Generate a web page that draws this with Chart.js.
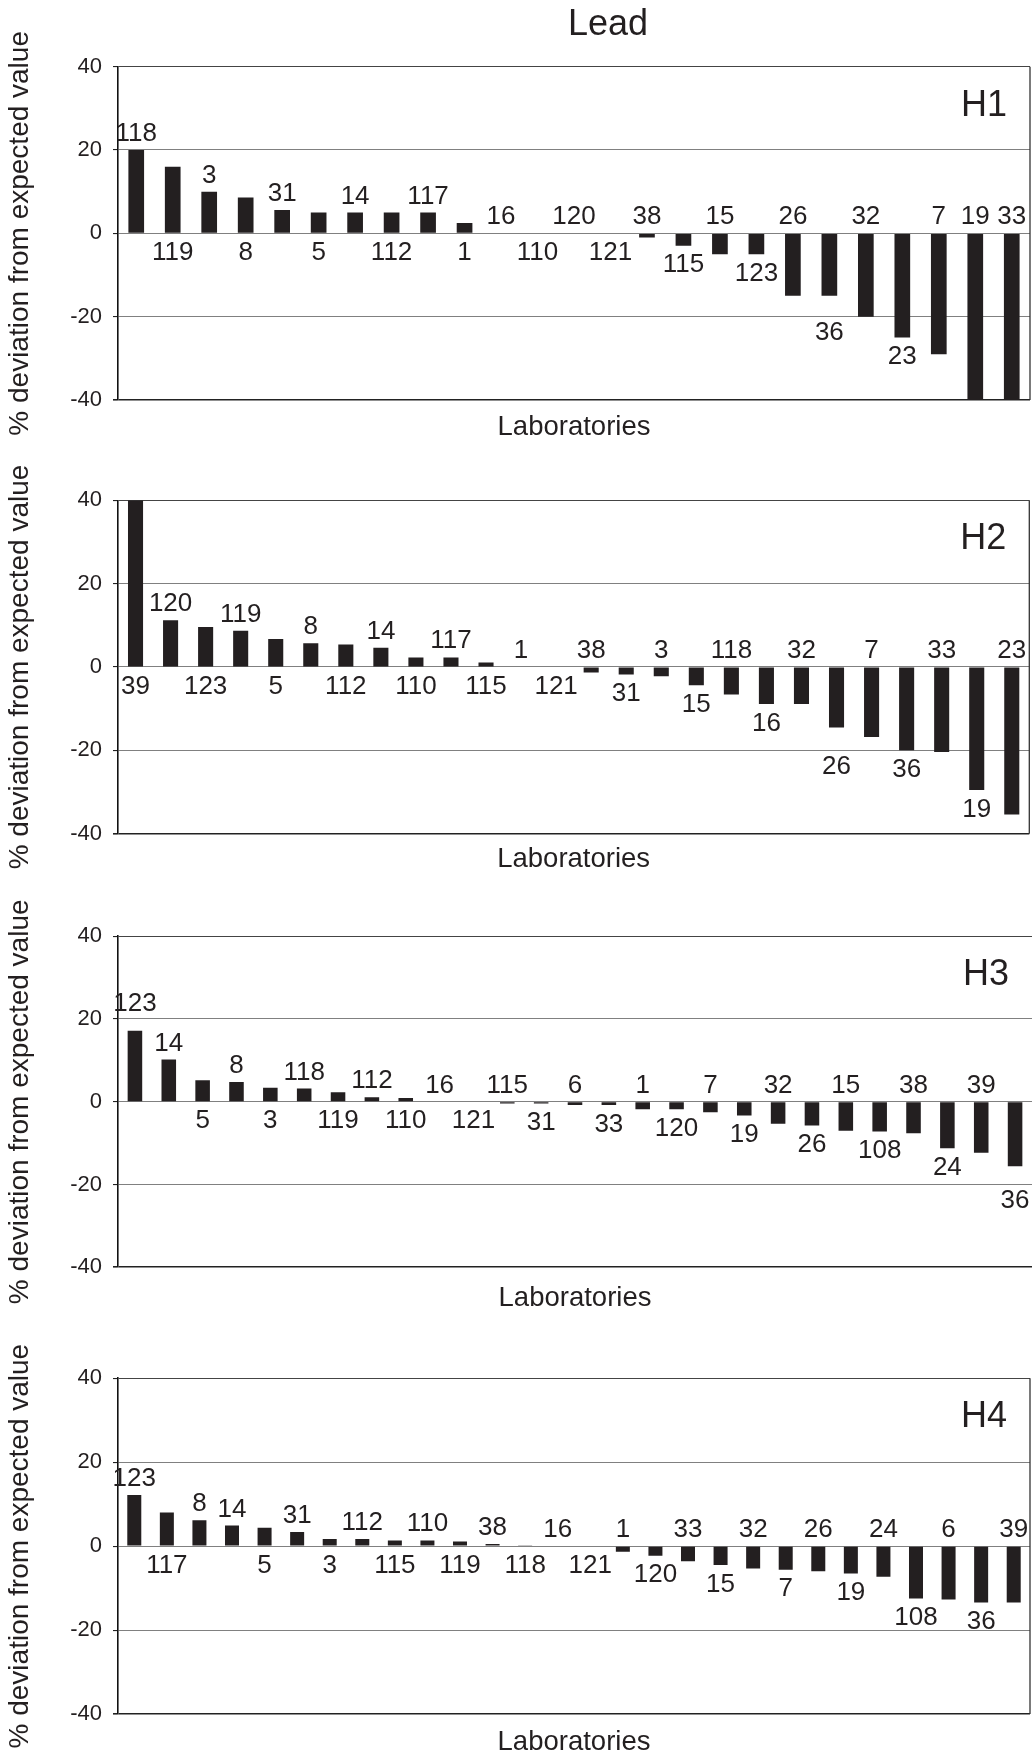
<!DOCTYPE html>
<html>
<head>
<meta charset="utf-8">
<script src="https://cdn.jsdelivr.net/npm/chart.js@4.4.1/dist/chart.umd.min.js"></script>
<style>
  html, body { margin: 0; padding: 0; background: #fff; overflow: hidden; }
  #wrap { position: relative; width: 1032px; height: 1756px; }
  #wrap canvas { position: absolute; left: 0; }
</style>
</head>
<body>
<div id="wrap"></div>
<script>
// --- data (% deviation from expected value, lead) ---
var h1Labs = ['118','119','3','8','31','5','14','112','117','1','16','110','120','121','38','115','15','123','26','36','32','23','7','19','33'];
var h1Vals = [20, 16, 10, 8.6, 5.6, 5, 5, 5, 5, 2.5, 0, 0, 0, 0, -1, -3, -5, -5, -15, -15, -20, -25, -29, -40, -40];
var h1Side = ['u','d','u','d','u','d','u','d','u','d','u','d','u','d','u','d','u','d','u','d','u','d','u','u','u'];

var h2Labs = ['39','120','123','119','5','8','112','14','110','117','115','1','121','38','31','3','15','118','16','32','26','7','36','33','19','23'];
var h2Vals = [40, 11.2, 9.6, 8.7, 6.7, 5.7, 5.4, 4.6, 2.3, 2.3, 1.1, 0, 0, -1.3, -1.8, -2.2, -4.4, -6.6, -8.9, -8.9, -14.5, -16.8, -20, -20.4, -29.5, -35.4];
var h2Side = ['d','u','d','u','d','u','d','u','d','u','d','u','d','u','d','u','d','u','d','u','d','u','d','u','d','u'];

var h3Labs = ['123','14','5','8','3','118','119','112','110','16','121','115','31','6','33','1','120','7','19','32','26','15','108','38','24','39','36'];
var h3Vals = [17.2, 10.2, 5.2, 4.8, 3.4, 3.2, 2.3, 1.1, 0.9, 0, 0, -0.4, -0.4, -0.8, -0.8, -1.8, -1.8, -2.5, -3.3, -5.3, -5.7, -7.0, -7.2, -7.6, -11.2, -12.3, -15.6];
var h3Side = ['u','u','d','u','d','u','d','u','d','u','d','u','d','u','d','u','d','u','d','u','d','u','d','u','d','u','d'];

var h4Labs = ['123','117','8','14','5','31','3','112','115','110','119','38','118','16','121','1','120','33','15','32','7','26','19','24','108','6','36','39'];
var h4Vals = [12.2, 8.0, 6.2, 4.9, 4.4, 3.4, 1.7, 1.7, 1.35, 1.35, 1.1, 0.5, 0.2, 0, 0, -1.35, -2.3, -3.6, -4.5, -5.3, -5.6, -6.0, -6.5, -7.3, -12.5, -12.7, -13.4, -13.4];
var h4Side = ['u','d','u','u','d','u','d','u','d','u','d','u','d','u','d','u','d','u','d','u','d','u','d','u','d','u','d','u'];

var panelNames = ['H1', 'H2', 'H3', 'H4'];
var yTicks = [-40, -20, 0, 20, 40];

// --- page layout (pixels) ---
var plotTops    = [66.7, 500.3, 936.3, 1378.3];
var plotBottoms = [400, 833.7, 1267.3, 1714];
var plotRights  = [1030, 1029.3, 1032, 1030];
var labDrop     = [27, 26, 31, 28];   // "Laboratories" centre below each plot
var rightFrame  = [true, true, false, true];
var PLOT_LEFT = 118;
var BELOW = 50;          // room under each plot for "Laboratories"
var TITLE_X = 608, TITLE_Y = 25;
var FONT = "'Liberation Sans', Arial, Helvetica, sans-serif";
var INK = '#231f20';
var LABEL_SIZE = 26;

Chart.defaults.font.family = FONT;
Chart.defaults.color = INK;

var panels = [
    { labs: h1Labs, vals: h1Vals, side: h1Side },
    { labs: h2Labs, vals: h2Vals, side: h2Side },
    { labs: h3Labs, vals: h3Vals, side: h3Side },
    { labs: h4Labs, vals: h4Vals, side: h4Side }
];

// lab numbers over / under each bar, plus panel name, right frame and main title
var barLabels = {
    id: 'barLabels',
    afterDatasetsDraw: function(chart, args, opts) {
        var ctx = chart.ctx;
        var y = chart.scales.y;
        var area = chart.chartArea;
        var meta = chart.getDatasetMeta(0);
        var grid = y.ticks.map(function(t) { return y.getPixelForValue(t.value); });
        var capH = 0.716 * LABEL_SIZE;

        ctx.save();
        ctx.font = LABEL_SIZE + 'px ' + FONT;
        ctx.fillStyle = INK;
        ctx.textAlign = 'center';
        ctx.textBaseline = 'alphabetic';
        meta.data.forEach(function(bar, i) {
            var v = opts.vals[i];
            var base, g;
            if (opts.side[i] === 'u') {
                base = y.getPixelForValue(Math.max(v, 0)) - 9;
                // a label that would sit on a gridline is lifted above it
                g = grid.find(function(p) { return p > base - capH - 1 && p < base + 1; });
                if (g !== undefined) base = g - 8;
            } else {
                var top = y.getPixelForValue(Math.min(v, 0)) + 8;
                g = grid.find(function(p) { return p > top - 1 && p < top + capH + 1; });
                if (g !== undefined) top = g + 5;
                base = top + capH;
            }
            ctx.fillText(opts.labs[i], bar.x, base);
        });

        ctx.font = '36px ' + FONT;
        ctx.textAlign = 'right';
        ctx.fillText(opts.name, area.right - 23, area.top + 49);

        if (opts.title) {
            ctx.textAlign = 'center';
            ctx.textBaseline = 'middle';
            ctx.fillText(opts.title, TITLE_X, TITLE_Y);
        }

        if (opts.frame) {
            ctx.strokeStyle = '#333';
            ctx.lineWidth = 1.3;
            ctx.beginPath();
            ctx.moveTo(area.right, area.top);
            ctx.lineTo(area.right, area.bottom);
            ctx.stroke();
        }
        ctx.restore();
    }
};

var wrap = document.getElementById('wrap');

panels.forEach(function(p, k) {
    var first = (k === 0);
    var canvasTop = first ? 0 : Math.round(plotTops[k]) - 55;
    var padTop = plotTops[k] - canvasTop;
    var canvasH = Math.ceil(plotBottoms[k] + BELOW - canvasTop);
    var xH = canvasH - (plotBottoms[k] - canvasTop);

    var canvas = document.createElement('canvas');
    canvas.width = 1032;
    canvas.height = canvasH;
    canvas.style.top = canvasTop + 'px';
    wrap.appendChild(canvas);

    new Chart(canvas.getContext('2d'), {
        type: 'bar',
        data: {
            labels: p.labs,
            datasets: [{
                data: p.vals,
                backgroundColor: INK,
                borderWidth: 0,
                barPercentage: 0.43,
                categoryPercentage: 1
            }]
        },
        options: {
            responsive: false,
            animation: false,
            devicePixelRatio: 1,
            layout: {
                padding: { top: padTop, right: 1032 - plotRights[k], bottom: 0, left: 0 }
            },
            plugins: {
                legend: { display: false },
                tooltip: { enabled: false },
                title: { display: false },
                barLabels: {
                    labs: p.labs, vals: p.vals, side: p.side,
                    name: panelNames[k], frame: rightFrame[k],
                    title: first ? 'Lead' : null
                }
            },
            scales: {
                x: {
                    grid: { display: false, drawTicks: false },
                    border: { display: false },
                    ticks: { display: false },
                    title: {
                        display: true,
                        text: 'Laboratories',
                        color: INK,
                        font: { size: 27.5, lineHeight: 1.2 },
                        padding: { top: 0, bottom: xH - labDrop[k] - 16.5 }
                    },
                    afterFit: function(s) { s.height = xH; }
                },
                y: {
                    min: -40,
                    max: 40,
                    afterBuildTicks: function(s) {
                        s.ticks = yTicks.map(function(v) { return { value: v }; });
                    },
                    ticks: {
                        color: INK,
                        padding: 11,
                        font: { size: 22 }
                    },
                    grid: {
                        color: function(c) {
                            if (c.tick.value === -40) return '#222';
                            if (c.tick.value === 40) return '#444';
                            return '#808080';
                        },
                        lineWidth: function(c) { return c.tick.value === -40 ? 1.6 : 1.1; },
                        tickColor: '#222',
                        tickLength: 5
                    },
                    border: { display: true, color: '#111', width: 1.6 },
                    title: {
                        display: true,
                        text: '% deviation from expected value',
                        color: INK,
                        font: { size: 28, lineHeight: 1.2 },
                        padding: { top: 3, bottom: 0 }
                    },
                    afterFit: function(s) { s.width = PLOT_LEFT; }
                }
            }
        },
        plugins: [barLabels]
    });
});
</script>
</body>
</html>
